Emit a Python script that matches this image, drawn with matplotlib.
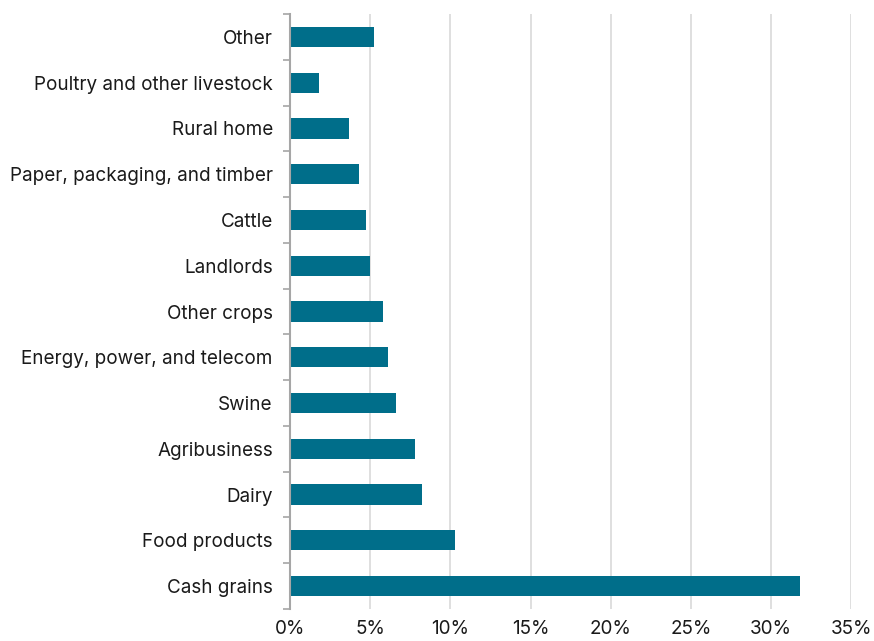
import numpy as np
import matplotlib.pyplot as plt
from matplotlib.ticker import FuncFormatter

# categories listed top to bottom as in the chart
categories = ['Other', 'Poultry and other livestock', 'Rural home',
              'Paper, packaging, and timber', 'Cattle', 'Landlords',
              'Other crops', 'Energy, power, and telecom', 'Swine',
              'Agribusiness', 'Dairy', 'Food products', 'Cash grains']
shares = [5.2, 1.8, 3.7, 4.3, 4.7, 5.0, 5.8, 6.1, 6.6, 7.8, 8.2, 10.3, 31.8]
x_ticks = [0, 5, 10, 15, 20, 25, 30, 35]

plt.rcParams['font.family'] = ['Inter', 'DejaVu Sans']

fig = plt.figure(figsize=(8.74, 6.41), dpi=100)
ax = fig.add_axes([0.332, 0.050, 0.642, 0.928])

pos = np.arange(len(categories))[::-1]
ax.barh(pos, shares, height=0.44, color='#006e8a', zorder=3)

ax.set_xlim(0, 35)
ax.set_ylim(-0.5, len(categories) - 0.5)
ax.set_xticks(x_ticks)
ax.xaxis.set_major_formatter(FuncFormatter(lambda v, p: f'{v:.0f}%'))
ax.grid(axis='x', color='#d9d9d9', linewidth=1.2, zorder=0)

ax.set_yticks(pos)
ax.set_yticklabels(categories)
ax.set_yticks(np.arange(len(categories) + 1) - 0.5, minor=True)
ax.tick_params(axis='y', which='major', length=0, pad=12.5, labelsize=13.6, labelcolor='#1a1a1a')
ax.tick_params(axis='y', which='minor', length=5, width=1.2, color='#a6a6a6')
ax.tick_params(axis='x', length=0, pad=8, labelsize=13.6, labelcolor='#1a1a1a')

for s in ['top', 'right', 'bottom']:
    ax.spines[s].set_visible(False)
ax.spines['left'].set_color('#a6a6a6')
ax.spines['left'].set_linewidth(1.5)
ax.spines['left'].set_zorder(4)

plt.savefig('out.png', dpi=100)
